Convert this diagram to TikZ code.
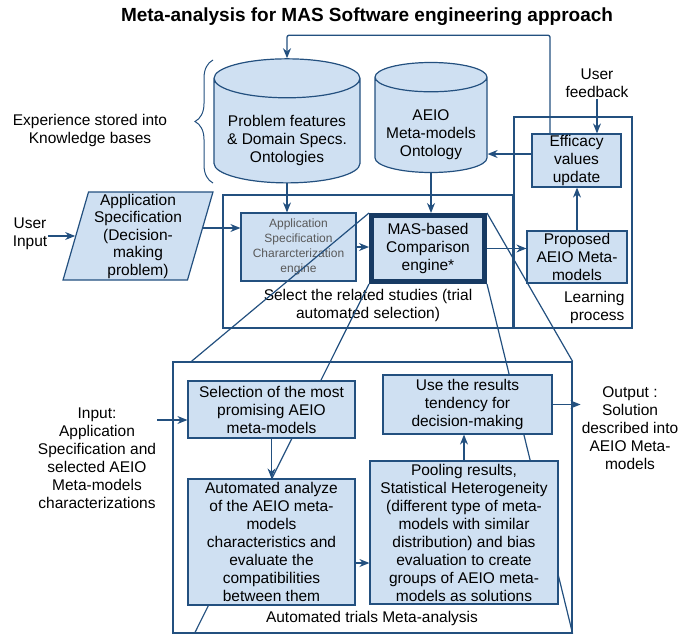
\documentclass[tikz,border=0pt]{standalone}
\usepackage{fontspec}
\setmainfont{Liberation Sans}
\usetikzlibrary{arrows.meta,positioning,calc,shapes.geometric,decorations.pathreplacing}
\definecolor{boxline}{HTML}{23507F}
\definecolor{masline}{HTML}{173A63}
\definecolor{boxfill}{HTML}{CFE0F2}
\newcommand{\bodysize}{\fontsize{15.5}{18}\selectfont}
\newcommand{\dbpad}{\rule{0pt}{27pt}}
\tikzset{
  box/.style={draw=boxline, fill=boxfill, line width=1.2pt, align=center, inner sep=1pt, font=\bodysize},
  frame/.style={draw=boxline, line width=1.2pt, inner sep=0pt},
  db/.style={cylinder, shape border rotate=90, aspect=0.32, draw=boxline, fill=boxfill, line width=1.2pt, align=center, inner sep=1pt, font=\bodysize},
  txt/.style={align=center, inner sep=1pt, font=\bodysize},
  flow/.style={-{Stealth[length=10pt,width=8pt]}, line width=1.3pt, draw=boxline},
  zoomline/.style={line width=1.2pt, draw=boxline}
}

\begin{document}
\begin{tikzpicture}[x=1pt, y=-1pt]
\useasboundingbox (0,0) rectangle (680,635);

\node[font=\fontsize{19}{22}\selectfont\bfseries] (title) at (367,17) {Meta-analysis for MAS Software engineering approach};

% frames
\node[frame, minimum width=290pt, minimum height=133pt] (select) at (368,261.5) {};
\node[frame, minimum width=118pt, minimum height=211pt] (learn) at (573,222.5) {};
\node[frame, minimum width=399pt, minimum height=271pt] (trials) at (372.5,497.5) {};

% knowledge bases
\node[txt] (exp) at (90,130) {Experience stored into\\Knowledge bases};
\draw[decorate, decoration={brace, amplitude=18pt}, boxline, line width=1pt] (213,183) -- (213,60);
\node[db, minimum width=146pt, minimum height=99pt] (probdb) at (287,132.5) {\dbpad Problem features\\\& Domain Specs.\\Ontologies};
\node[db, minimum width=112pt, minimum height=99pt] (aeiodb) at (431,126.5) {\dbpad AEIO\\Meta-models\\Ontology};

% learning process
\node[txt] (fbtext) at (597,83) {User\\feedback};
\node[box, minimum width=89pt, minimum height=53pt] (effic) at (576.5,160.5) {Efficacy\\values\\update};
\node[box, minimum width=100pt, minimum height=52pt] (proposed) at (577,257) {Proposed\\AEIO Meta-\\models};
\node[txt, align=right, anchor=south east] (learnlbl) at ($(learn.south east)+(-7,-4)$) {Learning\\process};

% selection of related studies
\node[txt] (usrin) at (30,234) {User\\Input};
\node[box, trapezium, trapezium left angle=75, trapezium right angle=105, trapezium stretches=true, inner sep=0pt, minimum width=150pt, minimum height=88pt, font=\fontsize{15.5}{17.5}\selectfont] (param) at (138,236) {Application\\Specification\\(Decision-\\making\\problem)};
\node[box, minimum width=115pt, minimum height=68pt, font=\fontsize{12}{15}\selectfont, text=black!65] (charbox) at (298.5,247) {Application\\Specification\\Chararcterization\\engine};
\node[box, draw=masline, line width=5pt, minimum width=113pt, minimum height=66pt] (masbox) at (428,248.5) {MAS-based\\Comparison\\engine*};
\node[txt] (selectlbl) at (368,305) {Select the related studies (trial\\automated selection)};

% zoom into the comparison engine
\draw[zoomline] (masbox.north west) -- ($(trials.north west)+(19,0)$);
\draw[zoomline] (masbox.south west) -- ($(trials.south west)+(22,0)$);
\draw[zoomline] (masbox.south east) -- (trials.south east);
\draw[zoomline] (masbox.north east) -- (trials.north east);

% meta-analysis
\node[txt] (inlbl) at (97,458) {Input:\\Application\\Specification and\\selected AEIO\\Meta-models\\characterizations};
\node[box, minimum width=167pt, minimum height=57pt] (sel) at (271.5,409.5) {Selection of the most\\promising AEIO\\meta-models};
\node[box, minimum width=167pt, minimum height=126pt] (anl) at (271.5,542) {Automated analyze\\of the AEIO meta-\\models\\characteristics and\\evaluate the\\compatibilities\\between them};
\node[box, minimum width=169pt, minimum height=59pt] (use) at (467.5,404.5) {Use the results\\tendency for\\decision-making};
\node[box, minimum width=188pt, minimum height=143pt] (pool) at (464,532.5) {Pooling results,\\Statistical Heterogeneity\\(different type of meta-\\models with similar\\distribution) and bias\\evaluation to create\\groups of AEIO meta-\\models as solutions};
\node[txt] (outlbl) at (630,428) {Output :\\Solution\\described into\\AEIO Meta-\\models};
\node[txt] (trialslbl) at (372,618) {Automated trials Meta-analysis};

\coordinate (fbin) at ($(effic.west)+(0,-6.5)$);
\coordinate (pin) at ($(param.east)+(2,-8)$);
\coordinate (selin) at ($(sel.west)+(0,10.5)$);
\coordinate (anlout) at ($(anl.east)+(0,21)$);

\draw[flow, rounded corners=2pt] ($(effic.north)+(-26.5,0)$) |- ($(probdb.north)+(0,-23)$) -- (probdb.north);
\draw[flow] (fbtext.south) -- (fbtext.south |- effic.north);
\draw[flow] (fbin) -- (fbin -| aeiodb.east);
\draw[flow] (proposed.north) -- (proposed.north |- effic.south);
\draw[flow] (probdb.south) -- (probdb.south |- charbox.north);
\draw[flow] (aeiodb.south) -- (aeiodb.south |- masbox.north);
\draw[flow] (usrin.east |- param.west) -- (param.west);
\draw[flow] (pin) -- (pin -| charbox.west);
\draw[flow] (charbox.east) -- (charbox.east -| masbox.west);
\draw[flow] (masbox.east) -- (masbox.east -| proposed.west);
\draw[flow] (selin -| inlbl.east) -- (selin);
\draw[flow] (sel.south) -- (anl.north);
\draw[flow] (anlout) -- (anlout -| pool.west);
\draw[flow] (pool.north) -- (pool.north |- use.south);
\draw[flow] (use.east) -- (use.east -| outlbl.west);
\end{tikzpicture}
\end{document}
